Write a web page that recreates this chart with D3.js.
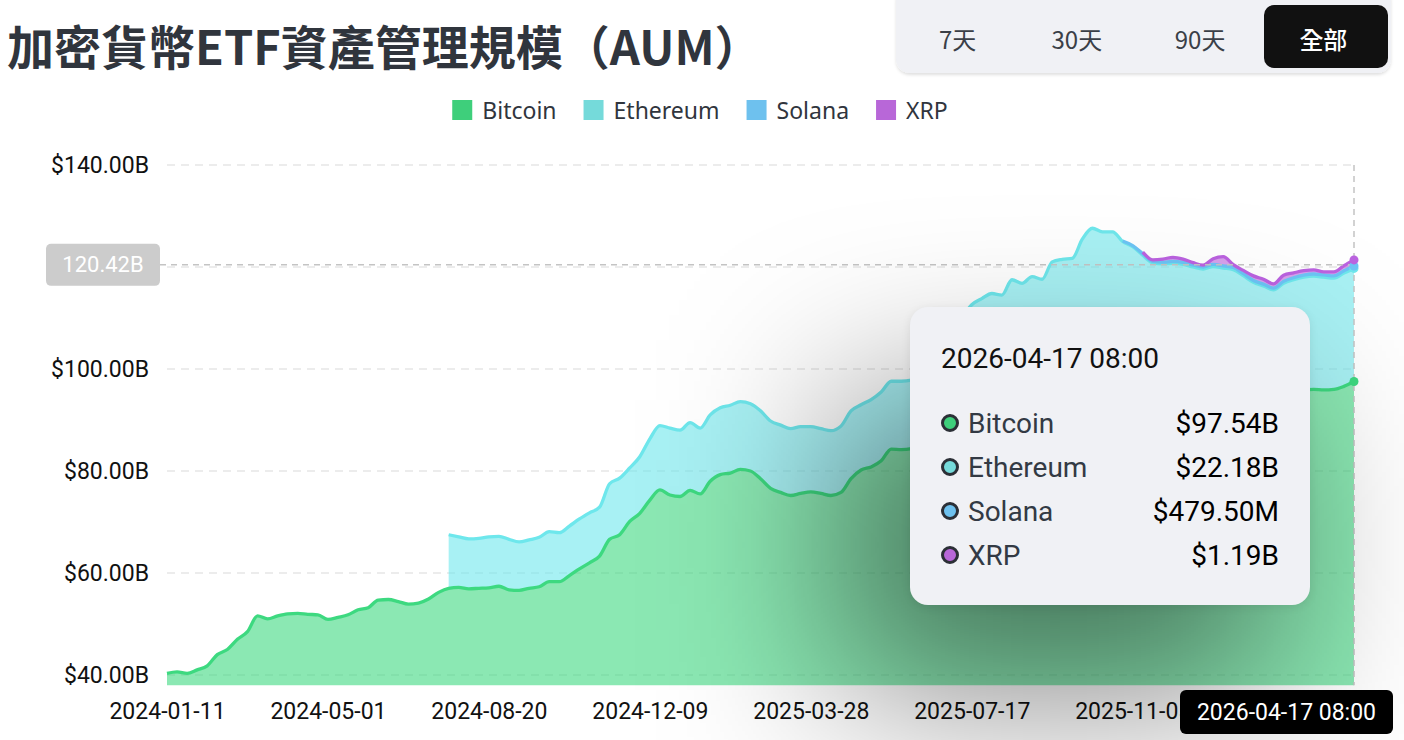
<!DOCTYPE html>
<html>
<head>
<meta charset="utf-8">
<script src="https://cdn.jsdelivr.net/npm/d3@7"></script>
<style>
  body { margin: 0; background: #fff; }
  #wrap { position: relative; width: 1404px; height: 740px; overflow: hidden; background: #fff; }
  #tip {
    position: absolute; left: 910px; top: 307px; width: 400px; height: 298px;
    box-sizing: border-box; padding: 34px 31px 0 31px;
    background: #f0f1f5; border-radius: 18px;
    box-shadow: 0 2px 10px rgba(0,0,0,0.08);
    font-family: Roboto, "Noto Sans", sans-serif;
  }
  #tip .ttl { font-size: 28px; color: #111; height: 36px; line-height: 36px; margin-bottom: 24px; }
  #tip .row { display: flex; align-items: center; height: 44px; font-size: 28px; }
  #tip .dot { width: 12px; height: 12px; border-radius: 50%; border: 3px solid #2b2f36; margin-right: 9px; }
  #tip .nm { color: #333a44; flex: 1; }
  #tip .val { color: #000; }
</style>
</head>
<body>
<div id="wrap"></div>
<script>
// chart data, one value per sample (about every 7 days)
var xLabels = ["2024-01-11", "2024-05-01", "2024-08-20", "2024-12-09", "2025-03-28", "2025-07-17", "2025-11-05"];
var labelStep = 16; // samples between two x labels
var lastDate = "2026-04-17 08:00";

var btc = [40.3, 40.6, 40.3, 41.0, 41.8, 44.0, 45.0, 47.0, 48.5, 51.6,
  51.0, 51.6, 52.0, 52.1, 51.9, 51.8, 50.9, 51.3, 51.8, 52.8,
  53.2, 54.7, 54.8, 54.4, 53.9, 54.1, 54.9, 56.2, 57.0, 57.2,
  56.9, 57.0, 57.1, 57.4, 56.7, 56.6, 57.0, 57.3, 58.3, 58.3,
  59.5, 60.8, 62.0, 63.3, 66.6, 67.5, 70.1, 71.7, 74.3, 76.3,
  75.3, 75.0, 76.2, 75.5, 78.0, 79.3, 79.6, 80.3, 80.0, 78.5,
  76.6, 75.8, 75.2, 75.6, 75.9, 75.6, 75.2, 75.8, 78.5, 80.2,
  80.8, 82.0, 84.3, 84.2, 84.4, 85.0, 86.0, 88.0, 90.0, 91.0,
  92.0, 93.0, 94.0, 93.0, 95.0, 94.5, 95.0, 94.0, 96.0, 97.0,
  98.0, 101.0, 100.0, 99.0, 99.0, 98.0, 97.0, 96.0, 95.0, 96.0,
  96.5, 96.0, 95.0, 96.0, 96.5, 96.0, 95.5, 94.5, 93.5, 93.0,
  92.5, 94.0, 95.0, 95.8, 96.0, 95.9, 96.0, 96.6, 97.54];

var ethStart = 28;
var eth = [10.5, 9.9, 9.8, 9.8, 10.0, 9.8, 9.9, 9.5, 9.5, 9.7,
  9.8, 9.6, 9.7, 9.8, 9.8, 9.6, 10.9, 11.1, 10.5, 11.1,
  12.0, 12.6, 13.1, 13.0, 13.3, 12.9, 13.0, 13.1, 13.3, 13.3,
  13.2, 13.3, 13.2, 13.2, 13.1, 13.1, 12.8, 12.7, 12.7, 13.0,
  13.3, 12.8, 13.2, 13.5, 13.3, 13.4, 13.4, 14.0, 15.0, 16.0,
  17.0, 19.0, 20.6, 20.8, 20.8, 21.5, 22.5, 22.3, 23.1, 23.6,
  25.0, 24.5, 23.7, 24.5, 27.6, 27.9, 27.9, 27.0, 27.0, 26.3,
  25.8, 24.6, 24.2, 24.5, 25.0, 23.6, 23.6, 23.8, 24.0, 23.8,
  23.5, 23.3, 23.0, 22.8, 22.5, 22.2, 22.2, 22.1, 21.8, 22.2,
  22.18];

var solStart = 95;
var sol = [0.10, 0.20, 0.30, 0.30, 0.35, 0.40, 0.40, 0.40, 0.40, 0.40,
  0.42, 0.40, 0.38, 0.36, 0.35, 0.35, 0.38, 0.40, 0.42, 0.43,
  0.44, 0.45, 0.46, 0.4795];

var xrpStart = 97;
var xrp = [0.30, 0.30, 0.60, 0.80, 0.65, 0.45, 0.35, 1.10, 1.80, 0.55,
  0.65, 0.90, 0.95, 0.85, 1.20, 0.95, 0.85, 0.80, 0.60, 0.80,
  1.00, 1.19];

var seriesNames = ["Bitcoin", "Ethereum", "Solana", "XRP"];
var seriesKeys = ["btc", "eth", "sol", "xrp"];
var lineColors = ["#3dd980", "#6ee7ec", "#6cc4f5", "#bb62e0"];
var legendColors = ["#3ecf7b", "#75dada", "#6ec1ee", "#b867d8"];
var yTicks = [40, 60, 80, 100, 120, 140];
var pointerValue = 120.42;
var tabs = ["7天", "30天", "90天", "全部"];

// build the table
var n = btc.length;
var rows = d3.range(n).map(function(i) {
  return {
    i: i,
    btc: btc[i],
    eth: i >= ethStart ? eth[i - ethStart] : null,
    sol: i >= solStart ? sol[i - solStart] : null,
    xrp: i >= xrpStart ? xrp[i - xrpStart] : null
  };
});

var W = 1404, H = 740;
var plotLeft = 167, plotRight = 1354, plotTop = 165, plotBottom = 685.2;

var x = d3.scaleLinear().domain([0, n - 1]).range([plotLeft, plotRight]);
var y = d3.scaleLinear().domain([38, 140]).range([plotBottom, plotTop]);

var wrap = d3.select("#wrap");
var svg = wrap.append("svg").attr("width", W).attr("height", H)
  .style("position", "absolute").style("left", 0).style("top", 0);

var defs = svg.append("defs");
var f = defs.append("filter").attr("id", "tabShadow").attr("x", "-5%").attr("y", "-20%").attr("width", "110%").attr("height", "150%");
f.append("feDropShadow").attr("dx", 0).attr("dy", 2).attr("stdDeviation", 1.5).attr("flood-color", "#000").attr("flood-opacity", 0.12);
// wide soft shadow thrown by the tooltip
defs.append("filter").attr("id", "tipShadow")
  .attr("filterUnits", "userSpaceOnUse").attr("x", 0).attr("y", 0).attr("width", W).attr("height", H)
  .append("feGaussianBlur").attr("stdDeviation", 90);

// title
svg.append("text")
  .attr("x", 7).attr("y", 44)
  .attr("dominant-baseline", "central")
  .style("font-family", "'Noto Sans CJK TC', 'Noto Sans', sans-serif")
  .style("font-weight", 700)
  .style("font-size", "47px")
  .style("fill", "#30353d")
  .text("加密貨幣ETF資產管理規模（AUM）");

// range tabs
var tabScale = d3.scaleBand().domain(tabs).range([895, 1388]);
svg.append("rect")
  .attr("x", 896).attr("y", -14).attr("width", 495).attr("height", 87).attr("rx", 14)
  .attr("fill", "#f0f1f5").attr("filter", "url(#tabShadow)");
svg.append("rect")
  .attr("x", 1264).attr("y", 5).attr("width", 124).attr("height", 63).attr("rx", 10)
  .attr("fill", "#111");
svg.selectAll(".tab").data(tabs).enter().append("text")
  .attr("class", "tab")
  .attr("x", function(d, i) { return tabScale(d) + tabScale.bandwidth() / 2 + (i === 0 ? 1 : -3); })
  .attr("y", 38)
  .attr("text-anchor", "middle")
  .attr("dominant-baseline", "central")
  .style("font-family", "'Noto Sans CJK TC', 'Noto Sans', sans-serif")
  .style("font-size", "24px")
  .style("font-weight", function(d, i) { return i === tabs.length - 1 ? 500 : 400; })
  .style("fill", function(d, i) { return i === tabs.length - 1 ? "#fff" : "#3a3f47"; })
  .text(function(d) { return d; });

// legend
var legend = svg.append("g");
var lx = 0;
seriesNames.forEach(function(name, k) {
  var g = legend.append("g").attr("transform", "translate(" + lx + ",0)");
  g.append("rect").attr("x", 0).attr("y", -10).attr("width", 20).attr("height", 20).attr("fill", legendColors[k]);
  var t = g.append("text").attr("x", 30).attr("y", 0).attr("dominant-baseline", "central")
    .style("font-family", "'Noto Sans', sans-serif").style("font-size", "23px").style("fill", "#30353d")
    .text(name);
  lx += 30 + t.node().getComputedTextLength() + 27;
});
lx -= 27;
legend.attr("transform", "translate(" + (700 - lx / 2) + ",110)");

// grid
svg.append("g").selectAll("line").data(yTicks).enter().append("line")
  .attr("x1", plotLeft).attr("x2", plotRight)
  .attr("y1", function(d) { return y(d); }).attr("y2", function(d) { return y(d); })
  .attr("stroke", "#e6e6e6").attr("stroke-width", 1.5).attr("stroke-dasharray", "8,6");

// y axis (the 120 label sits under the pointer badge, so it is not drawn)
var yAxis = svg.append("g").attr("transform", "translate(" + plotLeft + ",0)")
  .call(d3.axisLeft(y).tickValues(yTicks.filter(function(d) { return Math.abs(y(d) - y(pointerValue)) > 24; }))
    .tickSize(0).tickPadding(18)
    .tickFormat(function(d) { return "$" + d.toFixed(2) + "B"; }));
yAxis.select(".domain").remove();
yAxis.selectAll("text").style("font-family", "Roboto, sans-serif").style("font-size", "23px").style("fill", "#111");

// x axis
var xAxis = svg.append("g").attr("transform", "translate(0," + plotBottom + ")")
  .call(d3.axisBottom(x).tickValues(xLabels.map(function(d, k) { return k * labelStep; }))
    .tickSize(0).tickPadding(17)
    .tickFormat(function(d, k) { return xLabels[k]; }));
xAxis.select(".domain").remove();
xAxis.selectAll("text").style("font-family", "Roboto, sans-serif").style("font-size", "23px").style("fill", "#111");

// stacked areas
var stack = d3.stack().keys(seriesKeys).value(function(d, key) { return d[key] || 0; });
var layers = stack(rows);

var areaGroup = svg.append("g");
var lineGroup = svg.append("g");
layers.forEach(function(layer, k) {
  var key = seriesKeys[k];
  var defined = function(d) { return d.data[key] !== null; };
  var area = d3.area().defined(defined).curve(d3.curveMonotoneX)
    .x(function(d) { return x(d.data.i); })
    .y0(function(d) { return k === 0 ? plotBottom : y(d[0]); })
    .y1(function(d) { return y(d[1]); });
  var line = d3.line().defined(defined).curve(d3.curveMonotoneX)
    .x(function(d) { return x(d.data.i); })
    .y(function(d) { return y(d[1]); });
  areaGroup.append("path").attr("d", area(layer))
    .attr("fill", lineColors[k]).attr("fill-opacity", 0.6);
  lineGroup.append("path").attr("d", line(layer))
    .attr("fill", "none").attr("stroke", lineColors[k]).attr("stroke-width", 3.3)
    .attr("stroke-linejoin", "round");
});

// pointer at the last sample
var last = n - 1;
svg.append("line")
  .attr("x1", x(last)).attr("x2", x(last)).attr("y1", plotTop).attr("y2", plotBottom)
  .attr("stroke", "#c4c4c4").attr("stroke-width", 1.5).attr("stroke-dasharray", "6,5");
svg.append("line")
  .attr("x1", 160).attr("x2", x(last)).attr("y1", y(pointerValue)).attr("y2", y(pointerValue))
  .attr("stroke", "#c4c4c4").attr("stroke-width", 1.5).attr("stroke-dasharray", "6,5");
svg.append("g").selectAll("circle").data(layers).enter().append("circle")
  .attr("cx", x(last))
  .attr("cy", function(layer) { return y(layer[last][1]); })
  .attr("r", 4.5)
  .attr("fill", function(layer, k) { return lineColors[k]; });

// tooltip shadow, drawn over the chart
svg.append("rect")
  .attr("x", 840).attr("y", 400).attr("width", 430).attr("height", 290)
  .attr("fill", "#000").attr("fill-opacity", 0.5)
  .attr("filter", "url(#tipShadow)");

// y pointer badge
svg.append("rect").attr("x", 46).attr("y", y(pointerValue) - 21).attr("width", 114).attr("height", 42).attr("rx", 5).attr("fill", "#cccccc");
svg.append("text").attr("x", 103).attr("y", y(pointerValue)).attr("text-anchor", "middle").attr("dominant-baseline", "central")
  .style("font-family", "Roboto, sans-serif").style("font-size", "22px").style("fill", "#fff")
  .text(pointerValue.toFixed(2) + "B");

// x pointer badge
svg.append("rect").attr("x", 1180).attr("y", 690).attr("width", 213).attr("height", 44).attr("rx", 6).attr("fill", "#000");
svg.append("text").attr("x", 1286.5).attr("y", 712).attr("text-anchor", "middle").attr("dominant-baseline", "central")
  .style("font-family", "Roboto, sans-serif").style("font-size", "23px").style("fill", "#fff")
  .text(lastDate);

// tooltip
function fmt(v) {
  return v >= 1 ? "$" + v.toFixed(2) + "B" : "$" + (v * 1000).toFixed(2) + "M";
}
var tip = wrap.append("div").attr("id", "tip");
tip.append("div").attr("class", "ttl").text(lastDate);
var tipRows = tip.selectAll(".row").data(seriesKeys).enter().append("div").attr("class", "row");
tipRows.append("div").attr("class", "dot").style("background", function(d, k) { return legendColors[k]; });
tipRows.append("div").attr("class", "nm").text(function(d, k) { return seriesNames[k]; });
tipRows.append("div").attr("class", "val").text(function(d) { return fmt(rows[last][d]); });
</script>
</body>
</html>
